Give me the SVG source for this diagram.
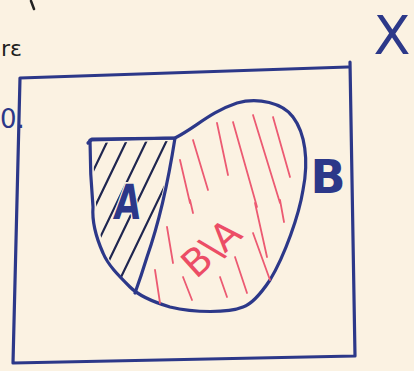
<svg xmlns="http://www.w3.org/2000/svg" width="414" height="371" viewBox="0 0 414 371">
<style>
.ink{fill:none;stroke:#2c3889;stroke-width:3.2;stroke-linecap:round;stroke-linejoin:round}
.hatch{fill:none;stroke:#1f2650;stroke-width:2.2;stroke-linecap:round}
.red{fill:none;stroke:#ec5a72;stroke-width:1.8;stroke-linecap:round}
.lbl{font-family:"DejaVu Sans","Liberation Sans",sans-serif;fill:#2c3889}
</style>
<defs>
<clipPath id="clipA"><path d="M93,143 L172,141 C167,172 158,220 145,257 C141,269 137,280 133,289 C119,277 108,262 102,240 C96,220 94,180 93,143 Z"/></clipPath>
</defs>
<rect width="414" height="371" fill="#fbf2e2"/>
<g id="margin-notes">
<path d="M31,1 L34,9" fill="none" stroke="#222" stroke-width="2.5" stroke-linecap="round"/>
<text x="1" y="56" font-family="DejaVu Sans,sans-serif" font-size="22" fill="#1e1e1e">rɛ</text>
<text x="0" y="128" class="lbl" font-size="26">0.</text>
</g>
<g id="universe-X">
<path class="ink" d="M20,78 L348,67 M350,62 L355,356 M355,356 L13,363 M13,363 L20,78"/>
<text x="392" y="54" class="lbl" font-size="54" text-anchor="middle">X</text>
</g>
<g id="set-A">
<g clip-path="url(#clipA)">
<path class="hatch" d="M108,140 L31,300 M127,140 L50,300 M147,140 L70,300 M167,140 L90,300 M187,140 L110,300 M207,140 L130,300"/>
</g>
<path class="ink" d="M88,143 L92,139 L175,138 C170,170 160,220 147,257 C143,270 139,282 135,293"/>
<text class="lbl" font-size="44" font-weight="bold" transform="translate(126,219) scale(0.78,1.1) skewX(-8)" text-anchor="middle" stroke="#fbf2e2" stroke-width="3" paint-order="stroke">A</text>
</g>
<g id="set-B">
<path class="ink" d="M90,140 L175,138 C195,128 210,112 237,103 C258,97 283,103 293,117 C305,133 309,160 303,190 C299,215 285,255 270,280 C260,295 252,304 243,307 C228,313 195,313 170,307 C150,301 138,295 130,287 C118,275 108,265 103,253 C95,235 92,220 93,207 C91,185 90,160 90,140 Z"/>
<path class="red" d="M180,160 L190,203 M193,140 L208,190 M217,123 L228,175 M233,122 L257,207 M253,115 L280,203 M273,117 L290,177 M190,200 L193,213 M167,227 L173,263 M155,270 L160,303 M183,277 L192,300 M220,277 L227,297 M235,257 L247,293 M253,233 L270,280 M255,203 L267,257 M280,200 L284,222"/>
<text x="328" y="193" class="lbl" font-size="46" font-weight="bold" text-anchor="middle">B</text>
<text transform="translate(220,258) rotate(-42)" font-family="DejaVu Sans,sans-serif" font-size="38" fill="#ec4d66" text-anchor="middle">B\A</text>
</g>
</svg>
